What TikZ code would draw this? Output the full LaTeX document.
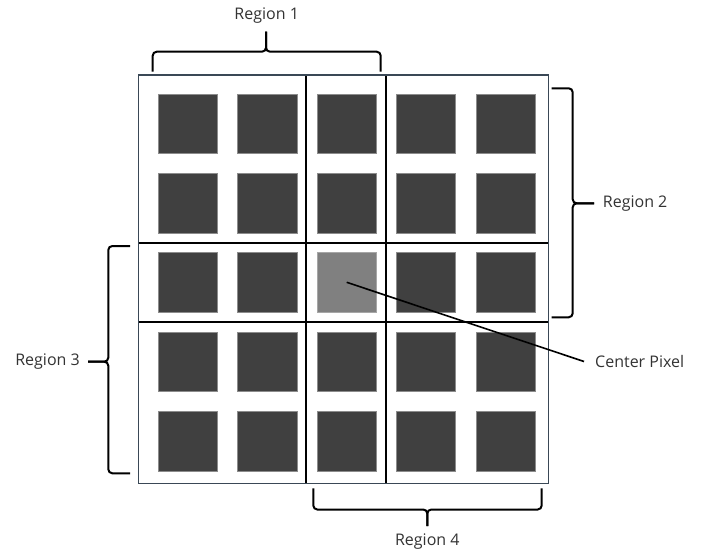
\documentclass[tikz,border=0pt]{standalone}
\usepackage{fontspec}
\setmainfont{Open Sans}
\definecolor{framecol}{RGB}{58,72,86}
\begin{document}
\begin{tikzpicture}[x=1pt,y=-1pt,
  px/.style={draw=black!45,line width=0.6pt,fill=black!75,minimum size=59.5pt,inner sep=0pt,outer sep=0pt},
  cpx/.style={draw=black!35,line width=0.6pt,fill=black!50,minimum size=59.5pt,inner sep=0pt,outer sep=0pt},
  gridline/.style={draw=black,line width=1.1pt},
  frame/.style={draw=framecol,line width=1.1pt},
  curly/.style={draw=black,line width=2pt,rounded corners=4pt},
  lbl/.style={text=black!80,font=\fontsize{16}{19}\selectfont,inner sep=0pt},
  leader/.style={draw=black,line width=1.6pt}]
\useasboundingbox (0,0) rectangle (703,553);

% pixel squares of the 5x5 window
\foreach \c/\x in {1/187.7,2/267.3,3/346.7,4/426,5/505.7}{
  \foreach \r/\y in {1/124,2/203.3,3/282.3,4/361.7,5/441.5}{
    \edef\sty{\ifnum\r\c=33 cpx\else px\fi}
    \node[\sty] (p\r\c) at (\x,\y) {};
  }
}

% region partition lines and outer frame
\draw[gridline] (306,75) -- (306,483.3);
\draw[gridline] (386,75) -- (386,483.3);
\draw[gridline] (138.3,243) -- (548.3,243);
\draw[gridline] (138.3,322) -- (548.3,322);
\draw[frame] (138.3,75) rectangle (548.3,483.3);

% Region 1 brace (top)
\draw[curly] (152.7,71.7) -- (152.7,51.7) -- (266,51.7) -- (266,31.7);
\draw[curly] (380.7,71.7) -- (380.7,51.7) -- (266,51.7) -- (266,31.7);
% Region 2 brace (right)
\draw[curly] (551.7,88.3) -- (572.7,88.3) -- (572.7,203.3) -- (594,203.3);
\draw[curly] (551.7,317.3) -- (572.7,317.3) -- (572.7,203.3) -- (594,203.3);
% Region 3 brace (left)
\draw[curly] (130,246) -- (108.3,246) -- (108.3,361.7) -- (88,361.7);
\draw[curly] (130,473.3) -- (108.3,473.3) -- (108.3,361.7) -- (88,361.7);
% Region 4 brace (bottom)
\draw[curly] (313.3,488.3) -- (313.3,509.5) -- (427.3,509.5) -- (427.3,526);
\draw[curly] (541.7,488.3) -- (541.7,509.5) -- (427.3,509.5) -- (427.3,526);

% labels
\node[lbl] (r1) at (266.7,16) {Region 1};
\node[lbl,anchor=west] (r2) at (602.7,204) {Region 2};
\node[lbl,anchor=east] (r3) at (80,362) {Region 3};
\node[lbl] (r4) at (427.3,542) {Region 4};
\node[lbl,anchor=west] (cp) at (595,361.5) {Center Pixel};

% leader to the centre pixel
\draw[leader] (p33.center) -- ([xshift=-11pt]cp.west);
\end{tikzpicture}
\end{document}
